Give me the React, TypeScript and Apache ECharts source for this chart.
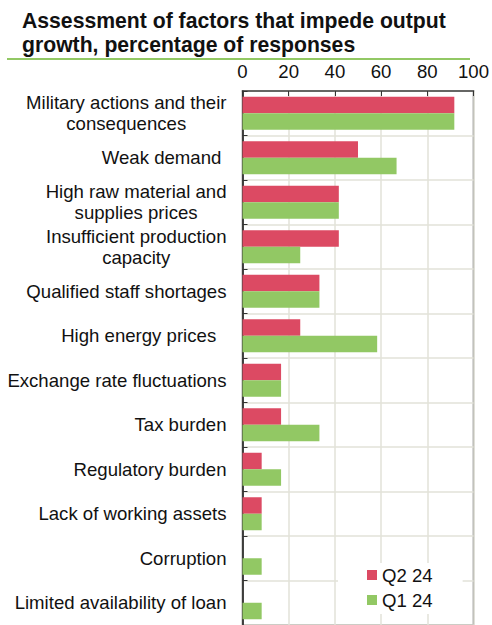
import React, { useEffect, useRef } from "react";
import * as echarts from "echarts";

const categories = [
  "Military actions and their\nconsequences",
  "Weak demand ",
  "High raw material and\nsupplies prices",
  "Insufficient production\ncapacity",
  "Qualified staff shortages",
  "High energy prices  ",
  "Exchange rate fluctuations",
  "Tax burden",
  "Regulatory burden",
  "Lack of working assets",
  "Corruption",
  "Limited availability of loan",
];
const q2_24 = [91.7, 50, 41.7, 41.7, 33.3, 25, 16.7, 16.7, 8.3, 8.3, 0, 0];
const q1_24 = [91.7, 66.7, 41.7, 25, 33.3, 58.3, 16.7, 33.3, 16.7, 8.3, 8.3, 8.3];
const seriesNames = ["Q2 24", "Q1 24"];
const titleText = "Assessment of factors that impede output\ngrowth, percentage of responses";

const FONT = "'Liberation Sans', Arial, sans-serif";
const RED = "#DC4A63";
const GREEN = "#92C864";
const FS = 18.6;

export default function App() {
  const ref = useRef<HTMLDivElement>(null);
  useEffect(() => {
    if (!ref.current) return;
    const chart = echarts.init(ref.current, null, { renderer: "svg" });
    chart.setOption({
      animation: false,
      backgroundColor: "#ffffff",
      textStyle: { fontFamily: FONT },
      title: {
        text: titleText,
        left: 17,
        top: 3,
        textStyle: {
          fontFamily: FONT,
          fontSize: 21.2,
          fontWeight: "bold",
          color: "#111",
          lineHeight: 24,
        },
      },
      graphic: [
        {
          type: "line",
          shape: { x1: 7, y1: 59, x2: 470, y2: 59 },
          style: { stroke: GREEN, lineWidth: 2 },
        },
      ],
      legend: {
        orient: "vertical",
        left: 338,
        top: 563,
        padding: [2, 30, 4, 29],
        backgroundColor: "#ffffff",
        itemWidth: 10,
        itemHeight: 10,
        itemGap: 5,
        icon: "rect",
        data: seriesNames,
        textStyle: { fontFamily: FONT, fontSize: FS, color: "#111", lineHeight: 20 },
      },
      grid: {
        left: 242.5,
        top: 91,
        width: 234,
        height: 540,
        show: true,
        borderColor: "#666",
        borderWidth: 1.5,
        backgroundColor: "transparent",
      },
      xAxis: {
        type: "value",
        position: "top",
        min: 0,
        max: 100,
        interval: 20,
        axisLine: { show: true, lineStyle: { color: "#444", width: 1.5 } },
        axisTick: { show: true, inside: true, length: 5, lineStyle: { color: "#333", width: 1 } },
        axisLabel: { fontFamily: FONT, fontSize: FS, color: "#111", margin: 10 },
        splitLine: { show: true, lineStyle: { color: "#E2E2D8", width: 1.5 } },
      },
      yAxis: {
        type: "category",
        inverse: true,
        data: categories,
        axisLine: { show: true, lineStyle: { color: "#111", width: 1.5 } },
        axisTick: { show: true, inside: true, length: 5, lineStyle: { color: "#333", width: 1 } },
        splitLine: { show: true, lineStyle: { color: "#E2E2D8", width: 1.5 } },
        axisLabel: {
          margin: 16,
          color: "#111",
          fontFamily: FONT,
          fontSize: FS,
          lineHeight: 21,
          formatter: (v: string) =>
            v
              .split("\n")
              .map((l) => `{c|${l}}`)
              .join("\n"),
          rich: {
            c: {
              align: "center",
              fontFamily: FONT,
              fontSize: FS,
              lineHeight: 21,
              color: "#111",
            },
          },
        },
      },
      series: [
        {
          name: seriesNames[0],
          type: "bar",
          data: q2_24,
          itemStyle: { color: RED },
          barCategoryGap: "26%",
          barGap: "0%",
        },
        {
          name: seriesNames[1],
          type: "bar",
          data: q1_24,
          itemStyle: { color: GREEN },
          barCategoryGap: "26%",
          barGap: "0%",
        },
      ],
    });
    return () => chart.dispose();
  }, []);
  return (
    <div
      ref={ref}
      style={{ position: "fixed", left: 0, top: 0, width: 492, height: 625 }}
    />
  );
}
